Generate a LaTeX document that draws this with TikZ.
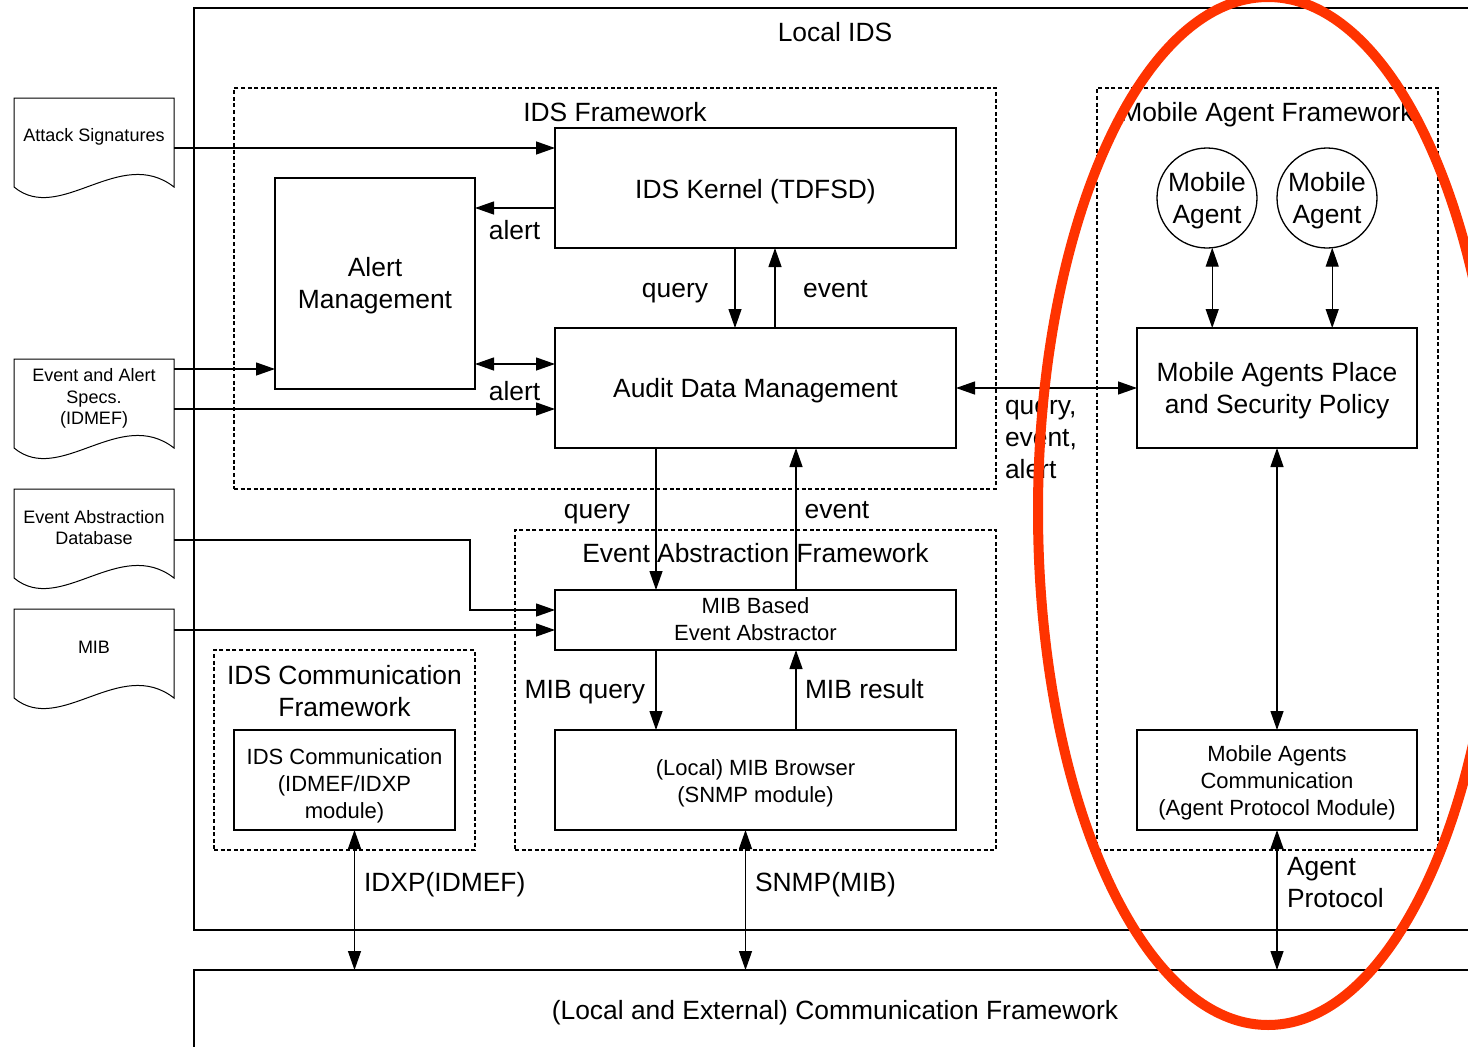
\documentclass[tikz,border=0pt]{standalone}
\usepackage{fontspec}
\setmainfont{Liberation Sans}
\usetikzlibrary{arrows.meta,calc}
\definecolor{ovalred}{RGB}{255,51,0}
\newcommand{\bigf}{\fontsize{26.4}{32}\selectfont}
\newcommand{\medf}{\fontsize{22}{27}\selectfont}
\newcommand{\smlf}{\fontsize{18}{21.5}\selectfont}
\tikzset{
  every node/.style={inner sep=0pt, outer sep=0pt},
  lw/.style={line width=1.3pt},
  box/.style={draw, line width=1.3pt, rectangle, anchor=north west},
  outerbox/.style={draw, line width=1.7pt, rectangle, anchor=north west},
  frame/.style={draw, line width=1.1pt, dash pattern=on 4pt off 2.6pt, rectangle, anchor=north west},
  docb/.style={rectangle, anchor=north west, minimum width=160pt, minimum height=89pt},
  agent/.style={draw, line width=1.3pt, circle, minimum size=100pt},
  bigt/.style={font=\bigf, align=center, execute at begin node=\strut, execute at end node=\strut},
  medt/.style={font=\medf, align=center, execute at begin node=\strut, execute at end node=\strut},
  smlt/.style={font=\smlf, align=center, execute at begin node=\strut, execute at end node=\strut},
}
\newcommand{\docshape}[1]{\draw[line width=1pt] (#1.north west) -- (#1.north east) -- (#1.south east)
  .. controls ($(#1.south east)+(-54,-42)$) and ($(#1.south west)+(46,38)$) .. (#1.south west) -- cycle;}
\begin{document}
\begin{tikzpicture}[x=1pt,y=-1pt,>={Triangle[length=19pt,width=13pt]}]
\useasboundingbox (0,0) rectangle (1468,1047);
\clip (0,0) rectangle (1468,1047);
\fill[white] (0,0) rectangle (1468,1047);

% outer frames
\node[outerbox, minimum width=1340pt, minimum height=922pt] (local) at (194,8) {};
\node[bigt] (localT) at (835,35) {Local IDS};
\node[outerbox, minimum width=1340pt, minimum height=200pt] (commf) at (194,970) {};
\node[bigt] (commT) at (835,1013) {(Local and External) Communication Framework};

% dashed frameworks
\node[frame, minimum width=762pt, minimum height=401pt] (idsfw) at (234,88) {};
\node[bigt] (idsfwT) at (615,115) {IDS Framework};
\node[frame, minimum width=481pt, minimum height=320pt] (eaf) at (515,530) {};
\node[bigt] (eafT) at (755.5,556) {Event Abstraction Framework};
\node[frame, minimum width=261pt, minimum height=200pt] (icf) at (214,650) {};
\node[bigt] (icfT) at (344.5,696) {IDS Communication\\Framework};
\node[frame, minimum width=341pt, minimum height=762pt] (maf) at (1097,88) {};
\node[bigt] (mafT) at (1267,115) {Mobile Agent Framework};

% boxes
\node[box, minimum width=401pt, minimum height=120pt] (kernel) at (555,128) {};
\node[bigt] (kernelT) at (755.5,192) {IDS Kernel (TDFSD)};
\node[box, minimum width=200pt, minimum height=211pt] (alertm) at (275,178) {};
\node[bigt] (alertmT) at (375,288) {Alert\\Management};
\node[box, minimum width=401pt, minimum height=120pt] (audit) at (555,328) {};
\node[bigt] (auditT) at (755.5,391) {Audit Data Management};
\node[box, minimum width=401pt, minimum height=60pt] (mibea) at (555,590) {};
\node[medt] (mibeaT) at (755.5,623) {MIB Based\\Event Abstractor};
\node[box, minimum width=401pt, minimum height=100pt] (mibb) at (555,730) {};
\node[medt] (mibbT) at (755.5,785.5) {(Local) MIB Browser\\(SNMP module)};
\node[box, minimum width=221pt, minimum height=100pt] (idsc) at (234,730) {};
\node[medt] (idscT) at (344.5,787.5) {IDS Communication\\(IDMEF/IDXP\\module)};
\node[box, minimum width=280pt, minimum height=120pt] (mapl) at (1137,328) {};
\node[bigt] (maplT) at (1277,393) {Mobile Agents Place\\and Security Policy};
\node[box, minimum width=280pt, minimum height=100pt] (macom) at (1137,730) {};
\node[medt] (macomT) at (1277,784.5) {Mobile Agents\\Communication\\(Agent Protocol Module)};
\node[agent] (ma1) at (1207,198) {};
\node[bigt] (ma1T) at (1207,203) {Mobile\\Agent};
\node[agent] (ma2) at (1327,198) {};
\node[bigt] (ma2T) at (1327,203) {Mobile\\Agent};

% documents
\node[docb] (att) at (14,98) {};
\docshape{att}
\node[smlt] (attT) at (94,137) {Attack Signatures};
\node[docb] (spec) at (14,359) {};
\docshape{spec}
\node[smlt] (specT) at (94,400) {Event and Alert\\Specs.\\(IDMEF)};
\node[docb] (ead) at (14,489) {};
\docshape{ead}
\node[smlt] (eadT) at (94,530.5) {Event Abstraction\\Database};
\node[docb] (mib) at (14,609) {};
\docshape{mib}
\node[smlt] (mibT) at (94,649) {MIB};

% connectors
\coordinate (k1) at ($(kernel.north west)+(0,20)$);
\draw[lw,->] (att.east |- k1) -- (k1);
\coordinate (k2) at ($(kernel.north west)+(0,80)$);
\draw[lw,->] (k2) -- (k2 -| alertm.east);
\coordinate (k3) at ($(kernel.south west)+(180,0)$);
\draw[lw,->] (k3) -- (k3 |- audit.north);
\coordinate (k4) at ($(kernel.south west)+(220,0)$);
\draw[lw,->] (k4 |- audit.north) -- (k4);
\coordinate (a1) at ($(audit.north west)+(0,36)$);
\draw[lw,<->] (a1 -| alertm.east) -- (a1);
\coordinate (s1) at ($(spec.north east)+(0,10)$);
\draw[lw,->] (s1) -- (s1 -| alertm.west);
\coordinate (s2) at ($(spec.north east)+(0,50)$);
\draw[lw,->] (s2) -- (s2 -| audit.west);
\draw[lw,<->] (audit.east) -- (mapl.west);
\coordinate (a3) at ($(audit.south west)+(101,0)$);
\draw[lw,->] (a3) -- (a3 |- mibea.north);
\coordinate (a4) at ($(audit.south west)+(241,0)$);
\draw[lw,->] (a4 |- mibea.north) -- (a4);
\coordinate (m1) at ($(mibea.north west)+(0,20)$);
\coordinate (e1) at ($(ead.north east)+(0,51)$);
\coordinate (m1b) at ($(m1)+(-85,0)$);
\draw[lw,->] (e1) -| (m1b) -- (m1);
\coordinate (m2) at ($(mibea.north west)+(0,40)$);
\draw[lw,->] (mib.east |- m2) -- (m2);
\draw[lw,->] (a3 |- mibea.south) -- (a3 |- mibb.north);
\draw[lw,->] (a4 |- mibb.north) -- (a4 |- mibea.south);
\coordinate (i1) at ($(idsc.south)+(10,0)$);
\draw[lw,<->] (i1) -- (i1 |- commf.north);
\coordinate (b1) at ($(mibb.south)+(-10,0)$);
\draw[lw,<->] (b1) -- (b1 |- commf.north);
\draw[lw,<->] (macom.south) -- (macom.south |- commf.north);
\draw[lw,<->] (mapl.south) -- (macom.north);
\draw[lw,<->] (ma1.-84) -- (ma1.-84 |- mapl.north);
\draw[lw,<->] (ma2.-84) -- (ma2.-84 |- mapl.north);

% connector labels
\node[bigt] (lAlert1) at (514.5,233) {alert};
\node[bigt] (lQuery1) at (675,291) {query};
\node[bigt] (lEvent1) at (835.5,291) {event};
\node[bigt] (lAlert2) at (514.5,394) {alert};
\node[bigt, align=left, anchor=west] (lQEA) at (1005,444) {query,\\event,\\alert};
\node[bigt] (lQuery2) at (597,512) {query};
\node[bigt] (lEvent2) at (837,512) {event};
\node[bigt, anchor=east] (lMibQ) at (645,692) {MIB query};
\node[bigt, anchor=west] (lMibR) at (805,692) {MIB result};
\node[bigt, anchor=west] (lIdxp) at (364,885) {IDXP(IDMEF)};
\node[bigt, anchor=west] (lSnmp) at (755,885) {SNMP(MIB)};
\node[bigt, align=left, anchor=west] (lAP) at (1287,887) {Agent\\Protocol};

% red highlight
\draw[ovalred, line width=10pt] (1268,511) ellipse [x radius=230pt, y radius=514pt];
\end{tikzpicture}
\end{document}
